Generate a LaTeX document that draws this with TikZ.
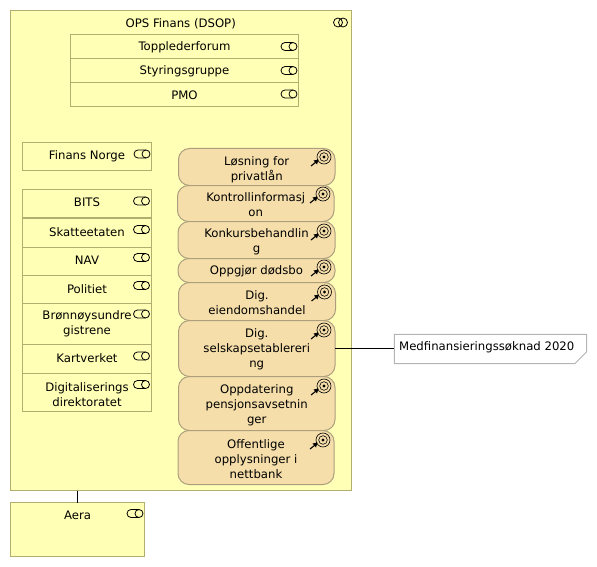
\documentclass[tikz,border=0pt]{standalone}
\usepackage{fontspec}
\setmainfont{DejaVu Sans}
\definecolor{grpfill}{HTML}{FFFFB5}
\definecolor{grpline}{HTML}{B2AE70}
\definecolor{goalfill}{HTML}{F5DEAA}
\definecolor{goalline}{HTML}{AD9F7E}
\definecolor{noteline}{HTML}{B4B4B4}
\tikzset{
  x=1pt,y=-1pt,
  shapebox/.style={anchor=center,inner sep=0pt,outer sep=0pt,line width=1pt},
  yellowbox/.style={shapebox,draw=grpline,fill=grpfill},
  goalbox/.style={shapebox,draw=goalline,fill=goalfill,rounded corners=11pt},
  lbl/.style={anchor=center,align=center,inner sep=0pt,yshift=-1pt,font=\fontsize{11.7}{15}\selectfont,text=black},
  icon/.style={draw=black,line width=0.8pt},
  link/.style={draw=black,line width=0.8pt}
}
% name, style, x0, y0, x1, y1, text centre y, text
\newcommand{\bx}[8]{%
  \pgfmathsetmacro{\bw}{#5-#3}\pgfmathsetmacro{\bh}{#6-#4}%
  \pgfmathsetmacro{\bcx}{(#3+#5)/2}\pgfmathsetmacro{\bcy}{(#4+#6)/2}%
  \node[#2,minimum width=\bw pt,minimum height=\bh pt] (#1) at (\bcx,\bcy) {};
  \node[lbl] (#1-text) at (\bcx,#7) {#8};
}
% service pill: right end x, top y
\newcommand{\svc}[2]{%
  \begin{scope}[shift={(#1,#2)}]
    \draw[icon] (-12,0) -- (-4,0) arc[start angle=-90,end angle=90,radius=4] -- (-12,8) arc[start angle=90,end angle=270,radius=4] -- cycle;
    \draw[icon] (-4,0) arc[start angle=-90,end angle=-270,radius=4];
  \end{scope}
}
% goal icon: circle centre
\newcommand{\goal}[2]{%
  \begin{scope}[shift={(#1,#2)}]
    \draw[icon,line width=0.6pt] (0,0) circle[radius=7];
    \draw[icon,line width=0.6pt] (0,0) circle[radius=4.3];
    \fill[black] (0,0) circle[radius=1.7];
    \draw[black,line width=1.1pt] (-13,9) -- (-8,5);
    \fill[black] (-5.5,2.5) -- (-10.5,3.5) -- (-7,7.5) -- cycle;
  \end{scope}
}
\begin{document}
\begin{tikzpicture}
\useasboundingbox (0,0) rectangle (597,567);
\bx{outer}{yellowbox}{10.5}{10.5}{351}{490.5}{23}{OPS Finans (DSOP)}
\begin{scope}[shift={(340.5,22.5)}]
  \draw[icon] (-2.5,0) circle[radius=4.5];
  \draw[icon] (2.5,0) circle[radius=4.5];
\end{scope}
\bx{toppl}{yellowbox}{70.5}{34.5}{298.5}{58.5}{46.5}{Topplederforum}\svc{297}{42.5}
\bx{styr}{yellowbox}{70.5}{58.5}{298.5}{82.5}{70.5}{Styringsgruppe}\svc{297}{66.5}
\bx{pmo}{yellowbox}{70.5}{82.5}{298.5}{106.5}{94.5}{PMO}\svc{297}{90}
\bx{finans}{yellowbox}{22.5}{142.5}{151.5}{170.5}{155}{Finans Norge}\svc{150}{150}
\bx{bits}{yellowbox}{22.5}{189.5}{151.5}{217.5}{201.5}{BITS}\svc{149.5}{197}
\bx{skatt}{yellowbox}{22.5}{218.5}{151.5}{247.5}{231}{Skatteetaten}\svc{149.5}{225.5}
\bx{nav}{yellowbox}{22.5}{247.5}{151.5}{275.5}{259.5}{NAV}\svc{149.5}{253.5}
\bx{polit}{yellowbox}{22.5}{275.5}{151.5}{303.5}{288}{Politiet}\svc{149.5}{281.5}
\bx{bronn}{yellowbox}{22.5}{303.5}{151.5}{344.5}{322.5}{Brønnøysundre\\gistrene}\svc{149.5}{310}
\bx{kart}{yellowbox}{22.5}{344.5}{151.5}{373.5}{357}{Kartverket}\svc{149.5}{352}
\bx{digi}{yellowbox}{22.5}{373.5}{151.5}{411.5}{393.5}{Digitaliserings\\direktoratet}\svc{149.5}{380.5}
\bx{losn}{goalbox}{178.5}{148.5}{335}{185.5}{168.5}{Løsning for\\privatlån}\goal{324}{157}
\bx{kontr}{goalbox}{177.5}{185.5}{334}{221.5}{203.5}{Kontrollinformasj\\on}\goal{323}{194}
\bx{konk}{goalbox}{178}{221.5}{335}{258.5}{240.5}{Konkursbehandlin\\g}\goal{324}{231}
\bx{oppg}{goalbox}{178}{258.5}{335}{282.5}{270.5}{Oppgjør dødsbo}\goal{324}{267}
\bx{eiend}{goalbox}{178.5}{282.5}{335.5}{320.5}{302}{Dig.\\eiendomshandel}\goal{324.5}{292}
\bx{selsk}{goalbox}{178.5}{320.5}{335}{376.5}{348}{Dig.\\selskapsetablereri\\ng}\goal{324}{330}
\bx{oppd}{goalbox}{178.5}{376.5}{335}{430.5}{404}{Oppdatering\\pensjonsavsetnin\\ger}\goal{324}{386}
\bx{offent}{goalbox}{178}{430.5}{334}{484.5}{458}{Offentlige\\opplysninger i\\nettbank}\goal{323}{440}
\bx{aera}{yellowbox}{10.5}{502.5}{144.5}{556.5}{514.5}{Aera}\svc{143}{509.5}
% note with cut corner, drawn as a custom path around a named node
\node[inner sep=0pt,minimum width=192pt,minimum height=29pt] (note) at (490.5,349) {};
\draw[noteline,fill=white,line width=1pt] (note.north west) -- (note.north east) -- (586.5,352) -- (575,363.5) -- (note.south west) -- cycle;
\node[lbl,anchor=west] (note-text) at (399,346.5) {Medfinansieringssøknad 2020};
\draw[link] (selsk.east) -- (selsk.east -| note.west);
\draw[link] (outer.south -| aera.center) -- (aera.north);
\end{tikzpicture}
\end{document}
